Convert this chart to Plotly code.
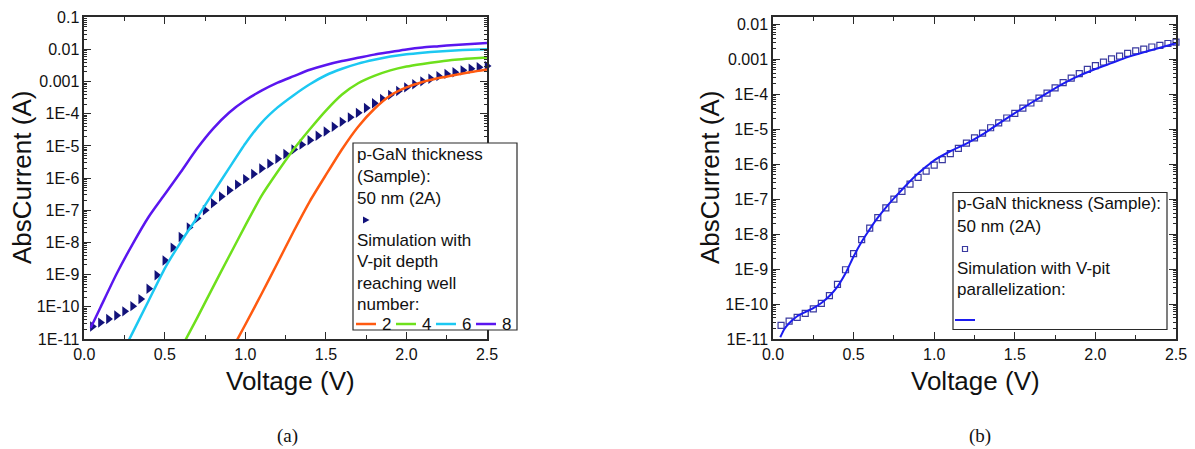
import plotly.graph_objects as go

W, H = 1195, 449

# ---------------- data ----------------
voltage_meas = [0.05, 0.10, 0.15, 0.20, 0.25, 0.30, 0.35, 0.40, 0.45, 0.50,
                0.55, 0.60, 0.65, 0.70, 0.75, 0.80, 0.85, 0.90, 0.95, 1.00,
                1.05, 1.10, 1.15, 1.20, 1.25, 1.30, 1.35, 1.40, 1.45, 1.50,
                1.55, 1.60, 1.65, 1.70, 1.75, 1.80, 1.85, 1.90, 1.95, 2.00,
                2.05, 2.10, 2.15, 2.20, 2.25, 2.30, 2.35, 2.40, 2.45, 2.50]
current_meas = [2.45e-11, 3.24e-11, 4.17e-11, 5.37e-11, 7.24e-11, 1.05e-10, 1.74e-10, 3.63e-10, 9.55e-10, 2.75e-9,
                6.92e-9, 1.48e-8, 2.95e-8, 5.62e-8, 1.00e-7, 1.66e-7, 2.69e-7, 4.17e-7, 6.31e-7, 9.33e-7,
                1.35e-6, 2.00e-6, 2.82e-6, 3.98e-6, 5.62e-6, 7.76e-6, 1.10e-5, 1.51e-5, 2.09e-5, 2.82e-5,
                3.98e-5, 5.62e-5, 7.76e-5, 1.07e-4, 1.51e-4, 2.14e-4, 2.88e-4, 3.89e-4, 5.13e-4, 6.61e-4,
                8.32e-4, 1.02e-3, 1.23e-3, 1.48e-3, 1.74e-3, 1.95e-3, 2.24e-3, 2.51e-3, 2.82e-3, 3.09e-3]

sim2_v = [0.93, 1.0, 1.1, 1.2, 1.3, 1.4, 1.5, 1.6, 1.7, 1.8, 1.9, 2.0, 2.1, 2.2, 2.3, 2.4, 2.5]
sim2_i = [6.31e-12, 2.82e-11, 2.51e-10, 2.34e-9, 2.24e-8, 1.91e-7, 1.26e-6, 7.94e-6, 3.98e-5, 1.41e-4,
          3.72e-4, 6.61e-4, 9.77e-4, 1.29e-3, 1.62e-3, 2.00e-3, 2.40e-3]

sim4_v = [0.61, 0.7, 0.8, 0.9, 1.0, 1.1, 1.2, 1.3, 1.4, 1.5, 1.6, 1.7, 1.8, 1.9, 2.0, 2.1, 2.2, 2.3, 2.4, 2.5]
sim4_i = [6.31e-12, 4.47e-11, 4.17e-10, 3.80e-9, 3.39e-8, 2.82e-7, 1.58e-6, 7.94e-6, 3.31e-5, 1.26e-4,
          3.98e-4, 8.91e-4, 1.51e-3, 2.24e-3, 2.95e-3, 3.55e-3, 4.17e-3, 4.79e-3, 5.25e-3, 5.62e-3]

sim6_v = [0.26, 0.3, 0.4, 0.5, 0.6, 0.7, 0.8, 0.9, 1.0, 1.1, 1.2, 1.3, 1.4, 1.5, 1.6, 1.7, 1.8, 1.9,
          2.0, 2.1, 2.2, 2.3, 2.4, 2.5]
sim6_i = [6.31e-12, 1.58e-11, 1.58e-10, 1.58e-9, 1.05e-8, 5.89e-8, 3.55e-7, 2.09e-6, 1.20e-5, 5.25e-5,
          1.58e-4, 3.80e-4, 8.32e-4, 1.58e-3, 2.51e-3, 3.63e-3, 4.79e-3, 6.03e-3, 7.08e-3, 7.94e-3,
          8.71e-3, 9.33e-3, 9.77e-3, 1.02e-2]

sim8_v = [0.04, 0.1, 0.2, 0.3, 0.4, 0.5, 0.6, 0.7, 0.8, 0.9, 1.0, 1.1, 1.2, 1.3, 1.4, 1.5, 1.6, 1.7,
          1.8, 1.9, 2.0, 2.1, 2.2, 2.3, 2.4, 2.5]
sim8_i = [2.24e-11, 9.55e-11, 1.05e-9, 8.91e-9, 6.31e-8, 3.16e-7, 1.58e-6, 8.32e-6, 3.47e-5, 1.10e-4,
          2.63e-4, 5.25e-4, 9.33e-4, 1.48e-3, 2.34e-3, 3.31e-3, 4.37e-3, 5.50e-3, 6.92e-3, 8.32e-3,
          1.00e-2, 1.15e-2, 1.26e-2, 1.38e-2, 1.48e-2, 1.58e-2]

simpar_v = [0.045, 0.07, 0.10, 0.15, 0.20, 0.25, 0.30, 0.35, 0.40, 0.45, 0.50, 0.55, 0.60, 0.65, 0.70,
            0.75, 0.80, 0.85, 0.90, 0.95, 1.00, 1.10, 1.20, 1.30, 1.40, 1.50, 1.60, 1.70, 1.80, 1.90,
            2.00, 2.10, 2.20, 2.30, 2.40, 2.50]
simpar_i = [1.12e-11, 1.91e-11, 2.82e-11, 4.47e-11, 5.89e-11, 7.59e-11, 1.07e-10, 1.70e-10, 3.16e-10, 7.59e-10,
            2.29e-9, 6.03e-9, 1.38e-8, 2.95e-8, 5.75e-8, 1.05e-7, 1.86e-7, 3.24e-7, 5.37e-7, 8.51e-7,
            1.29e-6, 2.34e-6, 3.89e-6, 7.08e-6, 1.45e-5, 2.88e-5, 5.62e-5, 1.07e-4, 2.00e-4, 3.39e-4,
            5.25e-4, 7.76e-4, 1.15e-3, 1.58e-3, 2.14e-3, 2.88e-3]

x_tickvals = [0.0, 0.5, 1.0, 1.5, 2.0, 2.5]
x_ticktext = ["0.0", "0.5", "1.0", "1.5", "2.0", "2.5"]
x_minor = [0.25, 0.75, 1.25, 1.75, 2.25]
y_tickvals = [1e-11, 1e-10, 1e-9, 1e-8, 1e-7, 1e-6, 1e-5, 1e-4, 1e-3, 1e-2, 1e-1]
y_ticktext = ["1E-11", "1E-10", "1E-9", "1E-8", "1E-7", "1E-6", "1E-5", "1E-4", "0.001", "0.01", "0.1"]

well_labels = ["2", "4", "6", "8"]
well_colors = ["#ff5a10", "#6ee01c", "#1cc8f2", "#5a16ef"]

# ---------------- styling helpers ----------------
FONT = "Liberation Sans, Arial, sans-serif"
AXC = "#2a2a2a"

def px(x):
    return x / W

def py(y):
    return 1 - y / H

y_minor = [m * 10.0 ** e for e in range(-12, 0) for m in range(2, 10)]

fig = go.Figure()

# left panel
fig.add_trace(go.Scatter(x=voltage_meas, y=current_meas, mode="markers",
                         marker=dict(symbol="triangle-right", size=9, color="#12127a"),
                         cliponaxis=False, xaxis="x", yaxis="y"))
for vv, ii, col in zip([sim2_v, sim4_v, sim6_v, sim8_v], [sim2_i, sim4_i, sim6_i, sim8_i], well_colors):
    fig.add_trace(go.Scatter(x=vv, y=ii, mode="lines",
                             line=dict(color=col, width=2.5, shape="spline", smoothing=0.6),
                             xaxis="x", yaxis="y"))

# right panel
fig.add_trace(go.Scatter(x=voltage_meas, y=current_meas, mode="markers",
                         marker=dict(symbol="square-open", size=6, color="#3a3aa0", line=dict(width=1.2)),
                         cliponaxis=False, xaxis="x2", yaxis="y2"))
fig.add_trace(go.Scatter(x=simpar_v, y=simpar_i, mode="lines",
                         line=dict(color="#1c1cf0", width=2, shape="spline", smoothing=0.6),
                         xaxis="x2", yaxis="y2"))

def xaxis(domain, anchor):
    return dict(domain=domain, anchor=anchor, range=[0, 2.5], tickmode="array", automargin=False,
                tickvals=x_tickvals, ticktext=x_ticktext, ticks="inside", ticklen=7, tickwidth=1.3,
                tickcolor=AXC, showline=True, linecolor=AXC, linewidth=1.5, mirror="allticks",
                showgrid=False, zeroline=False,
                tickfont=dict(family=FONT, size=16, color="#111"),
                minor=dict(tickmode="array", tickvals=x_minor, ticks="inside", ticklen=4,
                           tickwidth=1.2, tickcolor=AXC, showgrid=False))

def yaxis(domain, anchor, rng):
    return dict(domain=domain, anchor=anchor, type="log", range=rng, tickmode="array", automargin=False,
                tickvals=y_tickvals, ticktext=y_ticktext, ticks="inside", ticklen=7, tickwidth=1.3,
                tickcolor=AXC, showline=True, linecolor=AXC, linewidth=1.5, mirror="allticks",
                showgrid=False, zeroline=False,
                tickfont=dict(family=FONT, size=16, color="#111"),
                minor=dict(tickmode="array", tickvals=y_minor, ticks="inside", ticklen=3,
                           tickwidth=1, tickcolor=AXC, showgrid=False))

ydom = [py(339), py(17.3)]
fig.update_layout(
    width=W, height=H, margin=dict(l=0, r=0, t=0, b=0, autoexpand=False),
    paper_bgcolor="white", plot_bgcolor="white", showlegend=False,
    xaxis=xaxis([px(84.3), px(487)], "y"),
    yaxis=yaxis(ydom, "x", [-11, -1]),
    xaxis2=xaxis([px(773), px(1176)], "y2"),
    yaxis2=yaxis(ydom, "x2", [-11, -1.8]),
)

ann = []
shapes = []

def text(x, y, s, size=17, xanchor="left", angle=0, family=FONT):
    ann.append(dict(x=px(x), y=py(y), xref="paper", yref="paper", text=s, showarrow=False,
                    xanchor=xanchor, yanchor="middle", textangle=angle,
                    font=dict(family=family, size=size, color="#111")))

# axis titles
text(290, 381, "Voltage (V)", size=26, xanchor="center")
text(975, 381, "Voltage (V)", size=26, xanchor="center")
text(22, 178, "AbsCurrent (A)", size=26, xanchor="center", angle=-90)
text(710, 178, "AbsCurrent (A)", size=26, xanchor="center", angle=-90)
# captions
text(287, 436, "(a)", size=19, xanchor="center", family="Liberation Serif, Times New Roman, serif")
text(980, 436, "(b)", size=19, xanchor="center", family="Liberation Serif, Times New Roman, serif")

# left legend
shapes.append(dict(type="rect", xref="paper", yref="paper", x0=px(353), x1=px(517), y0=py(330), y1=py(143),
                   line=dict(color=AXC, width=1.2), fillcolor="white", layer="above"))
for yy, s in [(154, "p-GaN thickness"), (176.5, "(Sample):"), (198.5, "50 nm (2A)"),
              (240, "Simulation with"), (261.5, "V-pit depth"), (283, "reaching well"), (304.5, "number:")]:
    text(355, yy, s)
shapes.append(dict(type="path", xref="paper", yref="paper",
                   path=f"M {px(363)},{py(216.5)} L {px(369.5)},{py(220)} L {px(363)},{py(223.5)} Z",
                   fillcolor="#12127a", line=dict(width=0), layer="above"))
row_y = 324
for i, (lab, col) in enumerate(zip(well_labels, well_colors)):
    x0 = 356 + i * 40
    shapes.append(dict(type="line", xref="paper", yref="paper", x0=px(x0), x1=px(x0 + 20),
                       y0=py(row_y), y1=py(row_y), line=dict(color=col, width=2.5), layer="above"))
    text(x0 + 24, row_y, lab)

# right legend
shapes.append(dict(type="rect", xref="paper", yref="paper", x0=px(953), x1=px(1167), y0=py(329.5), y1=py(192.5),
                   line=dict(color=AXC, width=1.2), fillcolor="white", layer="above"))
for yy, s in [(204, "p-GaN thickness (Sample):"), (226, "50 nm (2A)"),
              (268.5, "Simulation with V-pit"), (289.5, "parallelization:")]:
    text(955, yy, s)
shapes.append(dict(type="rect", xref="paper", yref="paper", x0=px(962.5), x1=px(967.5), y0=py(251.5), y1=py(246.5),
                   line=dict(color="#3a3aa0", width=1.2), fillcolor="white", layer="above"))
shapes.append(dict(type="line", xref="paper", yref="paper", x0=px(955), x1=px(975),
                   y0=py(320), y1=py(320), line=dict(color="#1c1cf0", width=2), layer="above"))

fig.update_layout(annotations=ann, shapes=shapes)
fig.write_html("out.html", config={"displayModeBar": False},
               post_script="document.body.style.margin='0px';document.body.style.overflow='hidden';")
